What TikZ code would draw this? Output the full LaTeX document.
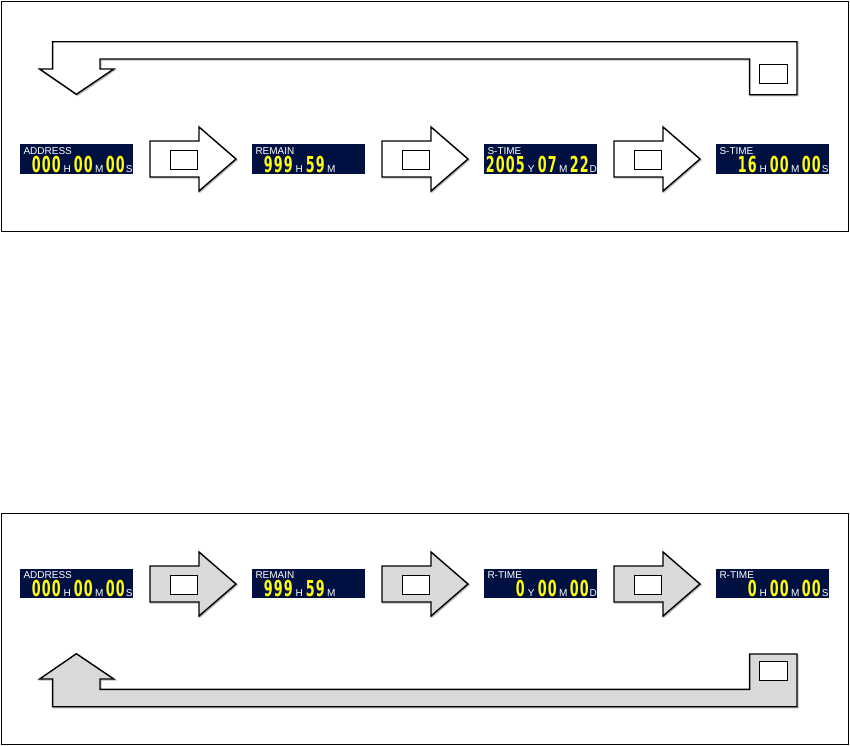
\documentclass[tikz,border=0pt]{standalone}
\usepackage{fontspec}
\setmainfont{Liberation Sans}
\newfontfamily\lcdfont[FakeStretch=0.58]{DejaVu Sans}
\usetikzlibrary{calc}
\definecolor{lcdbg}{HTML}{001040}
\definecolor{lcdyel}{HTML}{FFFF00}
\definecolor{arrgray}{HTML}{D9D9D9}
\newcommand\lcdd[1]{\makebox[10pt][c]{#1}}
\newcommand\lcdu[2][12pt]{\makebox[#1][c]{\color{white}\normalfont\fontsize{10}{10}\selectfont #2}}
\begin{document}
\begin{tikzpicture}[x=1pt, y=-1pt,
  disp/.style={draw=none, fill=lcdbg, minimum width=113pt, minimum height=30pt, inner sep=0pt, anchor=north west},
  dispb/.style={disp, minimum height=29pt},
  lbl/.style={text=white, font=\fontsize{10}{10}\selectfont, inner sep=0pt, anchor=base west},
  val/.style={text=lcdyel, font=\lcdfont\bfseries\fontsize{22}{22}\selectfont, inner sep=0pt},
  panel/.style={draw=black, line width=1pt},
  arrbody/.style={draw=black, line width=1.4pt, line join=miter,
     preaction={draw=gray!55, line width=1.4pt, transform canvas={shift={(1pt,-1pt)}}}},
  keybox/.style={draw=black, line width=0.9pt, fill=white, inner sep=0pt},
  rarr/.pic={
    \path[arrbody, arrfill] (0,14) -- (49,14) -- (49,0) -- (86,32) -- (49,64) -- (49,50) -- (0,50) -- cycle;
    \node[keybox, minimum width=27pt, minimum height=19pt] (-k) at (33.5,32.5) {};
  }]
\useasboundingbox (0,0) rectangle (850,745);

% ---------------- top panel ----------------
\draw[panel] (1,1) rectangle (848,231);
\begin{scope}[arrfill/.style={fill=white}]
  \path[arrbody, arrfill] (52.6,41.7) -- (797,41.7) -- (797,94.7) -- (749.6,94.7) -- (749.6,59) -- (100,59) -- (100,69) -- (113.8,69) -- (76.4,94.3) -- (39.6,69) -- (52.6,69) -- cycle;
  \node[keybox, minimum width=28pt, minimum height=19pt, anchor=north west] (rk1) at (759,64) {};
  \pic (ta1) at (150,127) {rarr};
  \pic (ta2) at (382,127) {rarr};
  \pic (ta3) at (614,127) {rarr};
\end{scope}

\node[disp] (t1) at (20,144) {};
\node[lbl] (t1l) at ($(t1.north west)+(3.3,10)$) {ADDRESS};
\node[val, anchor=base east] (t1v) at ($(t1.south east)+(0,-1.5)$) {\lcdd0\lcdd0\lcdd0\lcdu{H}\lcdd0\lcdd0\lcdu{M}\lcdd0\lcdd0\lcdu[8pt]{S}};

\node[disp] (t2) at (252,144) {};
\node[lbl] (t2l) at ($(t2.north west)+(3.3,10)$) {REMAIN};
\node[val, anchor=base west] (t2v) at ($(t2.south west)+(11,-1.5)$) {\lcdd9\lcdd9\lcdd9\lcdu{H}\lcdd5\lcdd9\lcdu{M}};

\node[disp] (t3) at (484,144) {};
\node[lbl] (t3l) at ($(t3.north west)+(3.3,10)$) {S-TIME};
\node[val, anchor=base east] (t3v) at ($(t3.south east)+(0,-1.5)$) {\lcdd2\lcdd0\lcdd0\lcdd5\lcdu{Y}\lcdd0\lcdd7\lcdu{M}\lcdd2\lcdd2\lcdu[8pt]{D}};

\node[disp] (t4) at (716,144) {};
\node[lbl] (t4l) at ($(t4.north west)+(3.3,10)$) {S-TIME};
\node[val, anchor=base east] (t4v) at ($(t4.south east)+(0,-1.5)$) {\lcdd1\lcdd6\lcdu{H}\lcdd0\lcdd0\lcdu{M}\lcdd0\lcdd0\lcdu[8pt]{S}};

% ---------------- bottom panel ----------------
\draw[panel] (1,513) rectangle (848,744);
\begin{scope}[arrfill/.style={fill=arrgray}]
  \path[arrbody, arrfill] (76.4,653.7) -- (113.8,679) -- (100,679) -- (100,689.3) -- (749.6,689.3) -- (749.6,654) -- (797,654) -- (797,706.7) -- (52.6,706.7) -- (52.6,679) -- (39.6,679) -- cycle;
  \node[keybox, minimum width=28pt, minimum height=19pt, anchor=north west] (rk2) at (759,661) {};
  \pic (ba1) at (150,552) {rarr};
  \pic (ba2) at (382,552) {rarr};
  \pic (ba3) at (614,552) {rarr};
\end{scope}

\node[dispb] (b1) at (20,569) {};
\node[lbl] (b1l) at ($(b1.north west)+(3.3,9.7)$) {ADDRESS};
\node[val, anchor=base east] (b1v) at ($(b1.south east)+(0,-1.8)$) {\lcdd0\lcdd0\lcdd0\lcdu{H}\lcdd0\lcdd0\lcdu{M}\lcdd0\lcdd0\lcdu[8pt]{S}};

\node[dispb] (b2) at (252,569) {};
\node[lbl] (b2l) at ($(b2.north west)+(3.3,9.7)$) {REMAIN};
\node[val, anchor=base west] (b2v) at ($(b2.south west)+(11,-1.8)$) {\lcdd9\lcdd9\lcdd9\lcdu{H}\lcdd5\lcdd9\lcdu{M}};

\node[dispb] (b3) at (484,569) {};
\node[lbl] (b3l) at ($(b3.north west)+(3.3,9.7)$) {R-TIME};
\node[val, anchor=base east] (b3v) at ($(b3.south east)+(0,-1.8)$) {\lcdd0\lcdu{Y}\lcdd0\lcdd0\lcdu{M}\lcdd0\lcdd0\lcdu[8pt]{D}};

\node[dispb] (b4) at (716,569) {};
\node[lbl] (b4l) at ($(b4.north west)+(3.3,9.7)$) {R-TIME};
\node[val, anchor=base east] (b4v) at ($(b4.south east)+(0,-1.8)$) {\lcdd0\lcdu{H}\lcdd0\lcdd0\lcdu{M}\lcdd0\lcdd0\lcdu[8pt]{S}};
\end{tikzpicture}
\end{document}
